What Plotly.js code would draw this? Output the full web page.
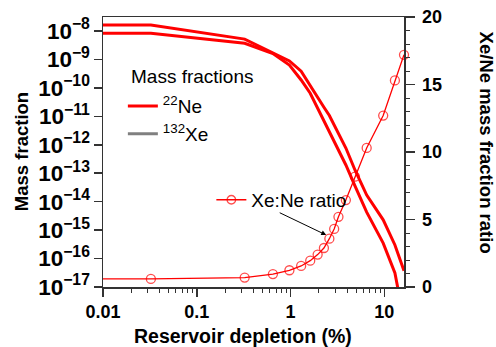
<!DOCTYPE html>
<html>
<head>
<meta charset="utf-8">
<script src="https://cdn.plot.ly/plotly-3.0.1.min.js"></script>
<style>html,body{margin:0;padding:0;background:#fff;}#chart{width:496px;height:347px;}</style>
</head>
<body>
<div id="chart"></div>
<script>
// Reservoir depletion (%) grid
const depletion = [0.01, 0.0324, 0.324, 0.648, 0.972, 1.296, 1.62, 1.944, 2.268, 2.592, 2.916, 3.24, 3.888, 4.86, 6.48, 9.72, 12.96, 16.2];
// Upper mass-fraction curve
const xeMass = [1.62e-8, 1.62e-8, 5.2e-9, 1.65e-9, 8.9e-10, 3.9e-10, 1.27e-10, 4.8e-11, 2.1e-11, 1.07e-11, 5.0e-12, 2.6e-12, 7.7e-13, 1.3e-13, 1.7e-14, 2.3e-15, 3.0e-16, 3.7e-17];
// Lower mass-fraction curve
const neMass = [8.3e-9, 8.3e-9, 3.7e-9, 1.62e-9, 6.4e-10, 1.9e-10, 6.5e-11, 1.97e-11, 6.9e-12, 2.8e-12, 1.3e-12, 6.6e-13, 1.95e-13, 3.6e-14, 4.3e-15, 3.5e-16, 3.1e-17, 7e-19];
// Xe:Ne mass fraction ratio
const ratio = [0.6, 0.6, 0.7, 0.96, 1.24, 1.56, 1.95, 2.4, 2.89, 3.58, 4.3, 5.2, 6.44, 8.17, 10.3, 12.7, 15.3, 17.2];
const markerSizes = depletion.map((d, i) => i === 0 ? 0 : 9);

const FONT = 'Liberation Sans, Arial, sans-serif';
const RED = '#ff0000';
const AX = '#333333';

const traces = [
  {x: depletion, y: xeMass, type: 'scatter', mode: 'lines', line: {color: RED, width: 3}, showlegend: false, hoverinfo: 'skip'},
  {x: depletion, y: neMass, type: 'scatter', mode: 'lines', line: {color: RED, width: 3}, showlegend: false, hoverinfo: 'skip'},
  {x: [null], y: [null], type: 'scatter', mode: 'lines', name: '<sup>22</sup>Ne', line: {color: RED, width: 3}, legend: 'legend'},
  {x: [null], y: [null], type: 'scatter', mode: 'lines', name: '<sup>132</sup>Xe', line: {color: '#808080', width: 3}, legend: 'legend'},
  {x: depletion, y: ratio, yaxis: 'y2', type: 'scatter', mode: 'lines+markers', name: 'Xe:Ne ratio',
   line: {color: RED, width: 1.3}, marker: {symbol: 'circle-open', size: markerSizes, color: RED, line: {width: 1.3, color: RED}},
   cliponaxis: false, legend: 'legend2'}
];

const layout = {
  width: 496, height: 347,
  margin: {l: 103, r: 92, t: 17, b: 60, pad: 0},
  paper_bgcolor: '#fff', plot_bgcolor: '#fff',
  font: {family: FONT, size: 18, color: '#000'},
  showlegend: true,
  xaxis: {
    type: 'log', range: [-2, Math.log10(16.2)], dtick: 1,
    showgrid: false, zeroline: false,
    showline: true, linecolor: AX, linewidth: 1.5, mirror: true,
    ticks: 'outside', ticklen: 8, tickwidth: 1.5, tickcolor: AX,
    tickfont: {family: FONT, size: 18, color: '#000', weight: 'bold'},
    minor: {ticks: 'outside', ticklen: 4, tickwidth: 1, tickcolor: AX, dtick: 'D1', showgrid: false}
  },
  yaxis: {
    type: 'log', range: [-17, -7.506], dtick: 1, exponentformat: 'power',
    showgrid: false, zeroline: false,
    showline: true, linecolor: AX, linewidth: 1.5,
    ticks: 'outside', ticklen: 8, tickwidth: 1.5, tickcolor: AX,
    tickfont: {family: FONT, size: 18, color: '#000', weight: 'bold'}
  },
  yaxis2: {
    overlaying: 'y', side: 'right', range: [0, 20], dtick: 5,
    showgrid: false, zeroline: false,
    showline: true, linecolor: AX, linewidth: 1.5,
    ticks: 'outside', ticklen: 9, tickwidth: 1.5, tickcolor: AX, ticklabelstandoff: 4,
    tickfont: {family: FONT, size: 18, color: '#000', weight: 'bold'},
    minor: {ticks: 'outside', ticklen: 4, tickwidth: 1, tickcolor: AX, dtick: 1, showgrid: false}
  },
  legend: {
    x: 0.066, y: 0.74, xanchor: 'left', yanchor: 'top',
    bgcolor: 'rgba(0,0,0,0)', borderwidth: 0,
    font: {family: FONT, size: 19, color: '#000'}, tracegroupgap: 0
  },
  legend2: {
    x: 0.36, y: 0.393, xanchor: 'left', yanchor: 'top',
    bgcolor: 'rgba(0,0,0,0)', borderwidth: 0,
    font: {family: FONT, size: 19, color: '#000'}
  },
  annotations: [
    {text: 'Mass fractions', xref: 'paper', yref: 'paper', x: 0.088, y: 0.781, xanchor: 'left', yanchor: 'middle',
     showarrow: false, font: {family: FONT, size: 19, color: '#000'}},
    {text: 'Mass fraction', xref: 'paper', yref: 'paper', x: -0.272, y: 0.5, xanchor: 'center', yanchor: 'middle',
     textangle: -90, showarrow: false, font: {family: FONT, size: 18.5, color: '#000', weight: 'bold'}},
    {text: 'Xe/Ne mass fraction ratio', xref: 'paper', yref: 'paper', x: 1.274, y: 0.533, xanchor: 'center', yanchor: 'middle',
     textangle: 90, showarrow: false, font: {family: FONT, size: 18.5, color: '#000', weight: 'bold'}},
    {text: 'Reservoir depletion (%)', xref: 'paper', yref: 'paper', x: 0.4635, y: -0.181, xanchor: 'center', yanchor: 'middle',
     showarrow: false, font: {family: FONT, size: 19.5, color: '#000', weight: 'bold'}},
    {text: '', xref: 'x', yref: 'y2', x: Math.log10(2.4), y: 3.85, ax: -48, ay: -23, axref: 'pixel', ayref: 'pixel',
     showarrow: true, arrowhead: 2, arrowsize: 1, arrowwidth: 1, arrowcolor: '#000', standoff: 0}
  ]
};

Plotly.newPlot('chart', traces, layout, {staticPlot: true, displayModeBar: false});
</script>
</body>
</html>
